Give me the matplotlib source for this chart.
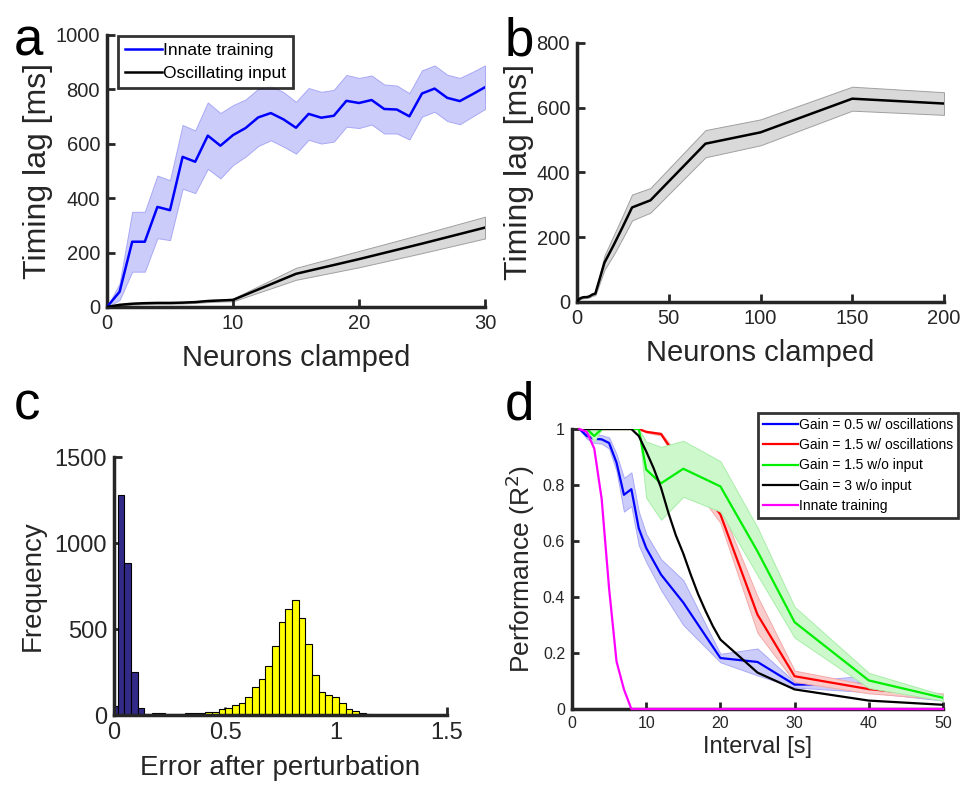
import matplotlib
matplotlib.use('Agg')
import matplotlib.pyplot as plt
import numpy as np
from matplotlib.ticker import FormatStrFormatter

plt.rcParams['font.family'] = ['Liberation Sans', 'DejaVu Sans']

# ---------------- data ----------------
# panel a: innate training (blue)
innate_x = list(range(0, 31))
innate_mean = [0, 56, 240, 240, 368, 356, 552, 534, 630, 593, 632, 658, 697, 713, 690, 659,
               710, 696, 703, 758, 750, 761, 728, 726, 701, 785, 803, 769, 757, 782, 808]
innate_sd = [0, 30, 110, 110, 115, 110, 117, 115, 122, 120, 110, 105, 105, 100, 100, 95,
             95, 95, 95, 95, 92, 90, 90, 88, 85, 85, 85, 85, 85, 82, 80]

# panels a & b: oscillating input (black)
osc_x = [0, 1, 2, 3, 4, 5, 6, 7, 8, 9, 10, 15, 20, 25, 30, 40, 70, 100, 150, 200]
osc_mean = [0, 8, 12, 14, 15, 15, 16, 18, 22, 24, 26, 122, 176, 233, 292, 314, 489, 524, 628, 613]
osc_sd = [0, 2, 3, 3, 3, 3, 3, 3, 4, 4, 5, 22, 30, 35, 40, 38, 42, 40, 37, 35]

# panel c: histograms
blue_centers = [0.0015, 0.0316, 0.0617, 0.0918, 0.1219, 0.152]
blue_counts = [52, 1279, 882, 252, 39, 4]
yellow_centers = [0.185 + 0.0301 * k for k in range(33)]
yellow_counts = [10, 10, 6, 6, 6, 10, 10, 10, 19, 19, 33, 39, 56, 72, 103, 161, 207, 287,
                 403, 539, 614, 667, 566, 411, 233, 132, 116, 103, 72, 33, 21, 10, 6]
bin_width = 0.0301

# panel d
interval = [1, 2, 3, 4, 5, 6, 7, 8, 9, 10, 12, 15, 20, 25, 30, 40, 50]
g05_osc = [1.0, 0.975, 0.965, 0.963, 0.95, 0.88, 0.765, 0.785, 0.645, 0.575, 0.48, 0.38,
           0.182, 0.168, 0.087, 0.09, 0.04]
g05_osc_sd = [0, 0.01, 0.015, 0.015, 0.02, 0.03, 0.06, 0.06, 0.06, 0.05, 0.055, 0.08,
              0.015, 0.048, 0.01, 0.03, 0.01]
g15_osc = [1, 1, 1, 1, 1, 1, 1, 1, 1, 0.99, 0.982, 0.865, 0.695, 0.337, 0.117, 0.071, 0.045]
g15_osc_sd = [0, 0, 0, 0, 0, 0, 0, 0, 0, 0.003, 0.005, 0.02, 0.03, 0.065, 0.02, 0.015, 0.01]
g15_noin = [1, 1, 0.975, 1, 1, 1, 1, 1, 1, 0.855, 0.806, 0.858, 0.795, 0.563, 0.31, 0.102, 0.04]
g15_noin_sd = [0, 0, 0.02, 0, 0, 0, 0, 0, 0, 0.1, 0.13, 0.1, 0.09, 0.085, 0.055, 0.027, 0.01]
fine_interval = list(range(1, 21)) + [25, 30, 40, 50]
g3_noin = [1, 1, 1, 1, 1, 1, 1, 1.0, 0.975, 0.92, 0.86, 0.79, 0.70, 0.62, 0.555, 0.48,
           0.41, 0.35, 0.295, 0.248, 0.13, 0.07, 0.03, 0.015]
innate_perf = [1.0, 0.99, 0.93, 0.75, 0.43, 0.17, 0.07, 0.0, 0, 0, 0, 0, 0, 0, 0, 0,
               0, 0, 0, 0, 0, 0, 0, 0]

# ---------------- figure ----------------
W, H = 973, 794
fig = plt.figure(figsize=(W / 100, H / 100), dpi=100)
AX = '#262626'


def px_axes(l, t, r, b):
    return fig.add_axes([l / W, 1 - b / H, (r - l) / W, (b - t) / H])


def style(ax, fs):
    for s in ['top', 'right']:
        ax.spines[s].set_visible(False)
    for s in ['left', 'bottom']:
        ax.spines[s].set_linewidth(2.5)
        ax.spines[s].set_color(AX)
    ax.tick_params(direction='in', length=6, width=2, color=AX, labelsize=fs,
                   labelcolor=AX, pad=5)


def band(ax, x, m, s, fc, ec, z=1):
    m = np.asarray(m, float)
    s = np.asarray(s, float)
    ax.fill_between(x, m - s, m + s, facecolor=fc, edgecolor=ec, linewidth=0.7, zorder=z)


# ---- panel a ----
ax = px_axes(107, 35, 485, 307)
style(ax, 14.5)
band(ax, innate_x, innate_mean, innate_sd, '#ccccfb', '#a8a8f5')
n_a = 15
band(ax, osc_x[:n_a], osc_mean[:n_a], osc_sd[:n_a], '#d9d9d9', '#a0a0a0')
ax.plot(innate_x, innate_mean, color='#0000ff', lw=1.8, label='Innate training', zorder=3)
ax.plot(osc_x[:n_a], osc_mean[:n_a], color='black', lw=1.8, label='Oscillating input', zorder=3)
ax.set_xlim(0, 30)
ax.set_ylim(0, 1000)
ax.set_xticks([0, 10, 20, 30])
ax.set_yticks(range(0, 1001, 200))
ax.set_xlabel('Neurons clamped', fontsize=21, color=AX, labelpad=8)
ax.set_ylabel('Timing lag [ms]', fontsize=23, color=AX, labelpad=2)
leg = ax.legend(loc='upper left', bbox_to_anchor=(0.03, 0.995), fontsize=12.5, frameon=True,
                fancybox=False, borderaxespad=0, handlelength=2.1, handletextpad=0.1,
                labelspacing=0.45, borderpad=0.4)
leg.get_frame().set_edgecolor('black')
leg.get_frame().set_linewidth(2)

# ---- panel b ----
ax = px_axes(577, 43, 944, 302)
style(ax, 14.5)
band(ax, osc_x, osc_mean, osc_sd, '#d9d9d9', '#a0a0a0')
ax.plot(osc_x, osc_mean, color='black', lw=1.8, zorder=3)
ax.set_xlim(0, 200)
ax.set_ylim(0, 800)
ax.set_xticks(range(0, 201, 50))
ax.set_yticks(range(0, 801, 200))
ax.set_xlabel('Neurons clamped', fontsize=21, color=AX, labelpad=8)
ax.set_ylabel('Timing lag [ms]', fontsize=23, color=AX, labelpad=2)

# ---- panel c ----
ax = px_axes(114, 457, 447, 715)
style(ax, 17)
ax.bar(blue_centers, blue_counts, width=bin_width, color='#322a88', edgecolor='black',
       linewidth=0.8, zorder=2)
ax.bar(yellow_centers, yellow_counts, width=bin_width, color='#ffff00', edgecolor='black',
       linewidth=0.8, zorder=2)
ax.set_xlim(0, 1.5)
ax.set_ylim(0, 1500)
ax.set_xticks([0, 0.5, 1, 1.5])
ax.xaxis.set_major_formatter(FormatStrFormatter('%g'))
ax.set_yticks([0, 500, 1000, 1500])
ax.set_xlabel('Error after perturbation', fontsize=20, color=AX, labelpad=8)
ax.set_ylabel('Frequency', fontsize=20, color=AX, labelpad=6)

# ---- panel d ----
ax = px_axes(572, 429, 943, 709)
style(ax, 11.5)
ax.tick_params(length=5)
band(ax, interval, g05_osc, g05_osc_sd, '#ccccfa', '#a8a8f5', z=1)
ax.plot(interval, g05_osc, color='#0000ff', lw=1.6, label='Gain = 0.5 w/ oscillations', zorder=2)
band(ax, interval, g15_osc, g15_osc_sd, '#fbcccc', '#f5a8a8', z=2)
ax.plot(interval, g15_osc, color='#ff0000', lw=1.6, label='Gain = 1.5 w/ oscillations', zorder=2)
band(ax, interval, g15_noin, g15_noin_sd, '#ccf8cc', '#a8eea8', z=3)
ax.plot(interval, g15_noin, color='#00ee00', lw=1.6, label='Gain = 1.5 w/o input', zorder=4)
ax.plot(fine_interval, g3_noin, color='black', lw=1.6, label='Gain = 3 w/o input', zorder=4)
ax.plot(fine_interval, innate_perf, color='#ff00ff', lw=1.6, label='Innate training',
        zorder=5, clip_on=False)
ax.set_xlim(0, 50)
ax.set_ylim(0, 1)
ax.set_xticks(range(0, 51, 10))
ax.set_yticks([0, 0.2, 0.4, 0.6, 0.8, 1])
ax.yaxis.set_major_formatter(FormatStrFormatter('%g'))
ax.set_xlabel('Interval [s]', fontsize=17, color=AX, labelpad=4)
ax.set_ylabel('Performance (R$^2$)', fontsize=19, color=AX, labelpad=4)
leg = ax.legend(loc='upper right', bbox_to_anchor=((958 - 572) / 371, (709 - 413) / 280),
                fontsize=10.0, frameon=True, fancybox=False, borderaxespad=0,
                handlelength=2.5, handletextpad=0.1, labelspacing=0.45, borderpad=0.35)
leg.get_frame().set_edgecolor('black')
leg.get_frame().set_linewidth(2)

# panel letters
for lab, x, y in [('a', 14, 55), ('b', 505, 55), ('c', 14, 420), ('d', 505, 420)]:
    fig.text(x / W, 1 - y / H, lab, fontsize=38, va='baseline', ha='left', color='black')

fig.savefig('out.png', dpi=100)
